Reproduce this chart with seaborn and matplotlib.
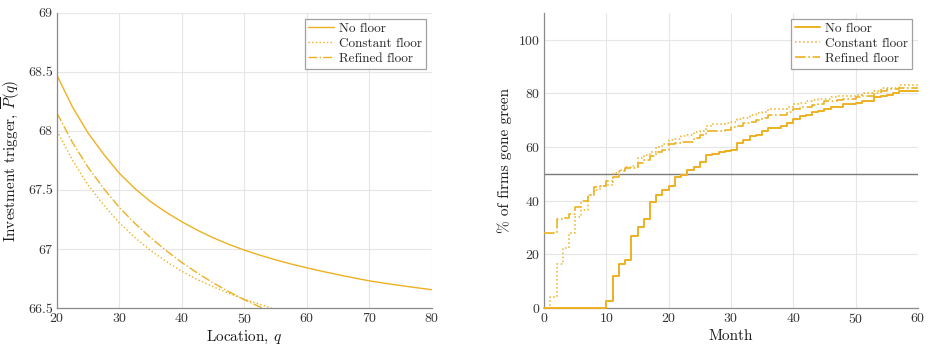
import numpy as np
import pandas as pd
import matplotlib
matplotlib.use("Agg")
import matplotlib.pyplot as plt
import seaborn as sns

# ---- Investment trigger vs. location ----
location = [20, 22.5, 25, 27.5, 30, 32.5, 35, 37.5, 40, 42.5, 45, 47.5, 50,
            52.5, 55, 57.5, 60, 62.5, 65, 67.5, 70, 72.5, 75, 77.5, 80]
trigger_no_floor = [68.47, 68.20, 67.98, 67.80, 67.64, 67.51, 67.40, 67.31, 67.23,
                    67.158, 67.095, 67.039, 66.99, 66.947, 66.908, 66.872, 66.84,
                    66.81, 66.782, 66.755, 66.73, 66.709, 66.69, 66.672, 66.655]
trigger_constant = [68.00, 67.75, 67.54, 67.37, 67.22, 67.095, 66.987, 66.893, 66.81,
                    66.74, 66.68, 66.625, 66.575, 66.53, 66.487]
trigger_refined = [68.15, 67.90, 67.69, 67.51, 67.35, 67.215, 67.095, 66.985, 66.885,
                   66.795, 66.713, 66.638, 66.57, 66.508, 66.45]

# ---- Share of firms that have switched, by month ----
months = list(range(61))
green_no_floor = [0, 0, 0, 0, 0, 0, 0, 0, 0, 0,
                  2.5, 12, 16.5, 18, 27, 30, 33, 39.5, 42, 44,
                  45.5, 49, 49.5, 51.5, 52.5, 54.5, 57, 57.5, 58, 58.5,
                  59, 61.5, 62.5, 64, 64.5, 66, 67, 67, 68, 69,
                  70.5, 71.5, 72, 73, 73.5, 74, 75, 75, 76, 76,
                  76.5, 77, 77, 78.5, 79, 79.5, 80, 81, 81, 81, 81]
green_constant = [0, 4, 16.5, 22.5, 28, 34, 36.5, 42, 44, 45.5,
                  46, 50.5, 51.5, 52.5, 53, 56, 57, 58, 60, 61,
                  62.5, 63, 64, 64.5, 65.5, 66, 68, 68.5, 68.5, 69,
                  69.5, 70.5, 71, 72, 72.5, 73, 74, 74, 74, 75,
                  76, 76.5, 77, 77.5, 78, 78, 78.5, 79, 79, 79,
                  79.5, 80, 80, 81, 82, 82, 82, 83, 83, 83, 83]
green_refined = [28, 28, 33, 33.5, 35, 37.5, 40, 42, 45, 45.5,
                 47.5, 49, 51, 52, 52, 54, 55, 56.5, 58, 59,
                 61, 61.5, 62, 62, 63.5, 64.5, 66, 66, 66, 66.5,
                 67.5, 68, 69, 69.5, 70, 71, 72, 72, 72, 73,
                 74, 75, 75, 75.5, 76, 77, 77, 77.5, 78, 78,
                 78.5, 79, 79, 80, 81, 81.5, 81.5, 82, 82, 82, 82]
half_share = 50

series_names = ["No floor", "Constant floor", "Refined floor"]
line_styles = ["-", ":", "-."]
gold = "#EDB120"

sns.set_theme(style="white")
plt.rcParams.update({
    "font.family": ["cmr10", "DejaVu Serif"],
    "mathtext.fontset": "cm",
    "axes.formatter.use_mathtext": True,
    "axes.edgecolor": "#8a8a8a",
    "axes.linewidth": 0.9,
    "xtick.direction": "in",
    "ytick.direction": "in",
    "xtick.major.size": 3,
    "ytick.major.size": 3,
    "xtick.major.width": 0.8,
    "ytick.major.width": 0.8,
    "xtick.color": "#8a8a8a",
    "ytick.color": "#8a8a8a",
    "xtick.labelcolor": "#333333",
    "ytick.labelcolor": "#333333",
    "xtick.labelsize": 10,
    "ytick.labelsize": 10,
    "axes.labelsize": 11,
    "axes.labelcolor": "#1a1a1a",
})

fig = plt.figure(figsize=(9.3, 3.48), dpi=100)
ax1 = fig.add_axes([0.0613, 0.115, 0.403, 0.848])
ax2 = fig.add_axes([0.585, 0.115, 0.402, 0.848])

# Left panel: trigger curves
trig_df = {
    "No floor": pd.DataFrame({"q": location, "p": trigger_no_floor}),
    "Constant floor": pd.DataFrame({"q": location[:len(trigger_constant)], "p": trigger_constant}),
    "Refined floor": pd.DataFrame({"q": location[:len(trigger_refined)], "p": trigger_refined}),
}
for name, ls in zip(series_names, line_styles):
    sns.lineplot(data=trig_df[name], x="q", y="p", ax=ax1, color=gold,
                 linestyle=ls, linewidth=1.0, label=name, estimator=None)

ax1.set_xlim(20, 80)
ax1.set_ylim(66.5, 69)
ax1.set_xticks(range(20, 81, 10))
ax1.set_yticks([66.5, 67, 67.5, 68, 68.5, 69])
ax1.set_yticklabels(["66.5", "67", "67.5", "68", "68.5", "69"])
ax1.set_xlabel(r"Location, $q$", labelpad=2)
ax1.set_ylabel(r"Investment trigger, $\overline{P}(q)$", labelpad=4)

# Right panel: cumulative adoption
green_df = pd.DataFrame({
    "month": months * 3,
    "share": green_no_floor + green_constant + green_refined,
    "policy": [series_names[0]] * 61 + [series_names[1]] * 61 + [series_names[2]] * 61,
})
ax2.axhline(half_share, color="#7a7a7a", linewidth=1.0, zorder=1)
step_widths = [1.4, 1.1, 1.2]
for name, ls, lw in zip(series_names, line_styles, step_widths):
    sub = green_df[green_df["policy"] == name]
    sns.lineplot(data=sub, x="month", y="share", ax=ax2, color=gold,
                 linestyle=ls, linewidth=lw, label=name, estimator=None,
                 drawstyle="steps-post", clip_on=False, zorder=3)

ax2.set_xlim(0, 60)
ax2.set_ylim(0, 110)
ax2.set_xticks(range(0, 61, 10))
ax2.set_yticks(range(0, 101, 20))
ax2.set_xlabel("Month", labelpad=2)
ax2.set_ylabel("% of firms gone green", labelpad=4)

for ax in (ax1, ax2):
    ax.grid(True, color="#e6e6e6", linewidth=0.8)
    ax.set_axisbelow(True)
    sns.despine(ax=ax, top=True, right=True)
    ax.tick_params(axis="both", pad=3)
    leg = ax.legend(loc="upper right", fontsize=9.5, frameon=True, fancybox=False,
                    edgecolor="#8a8a8a", handlelength=1.9, borderpad=0.3,
                    labelspacing=0.2, handletextpad=0.4, borderaxespad=0,
                    bbox_to_anchor=(0.984, 0.98))
    leg.get_frame().set_linewidth(0.9)

fig.savefig("out.png", dpi=100)
